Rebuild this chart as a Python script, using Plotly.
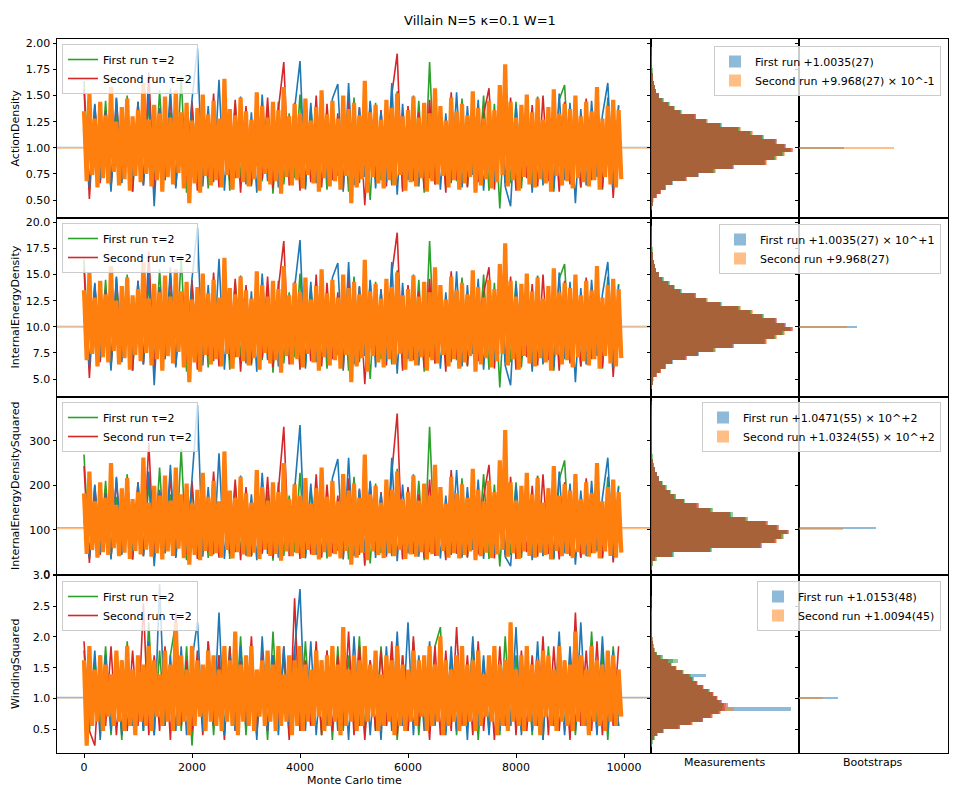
import plotly.graph_objects as go

FONT = "DejaVu Sans"
BLUE, ORANGE, GREEN, RED = "#1f77b4", "#ff7f0e", "#2ca02c", "#d62728"

TITLE = "Villain N=5 κ=0.1 W=1"
OBSERVABLES = ["ActionDensity", "InternalEnergyDensity", "InternalEnergyDensitySquared", "WindingSquared"]
X_TICKS = [0, 2000, 4000, 6000, 8000, 10000]
Y_TICKS = [
    [0.50, 0.75, 1.00, 1.25, 1.50, 1.75, 2.00],
    [5.0, 7.5, 10.0, 12.5, 15.0, 17.5, 20.0],
    [0, 100, 200, 300],
    [0.5, 1.0, 1.5, 2.0, 2.5, 3.0],
]
TRACE_LABELS = ["First run τ=2", "Second run τ=2"]
RESULT_LABELS = [
    ("First run +1.0035(27)", "Second run +9.968(27) × 10^-1"),
    ("First run +1.0035(27) × 10^+1", "Second run +9.968(27)"),
    ("First run +1.0471(55) × 10^+2", "Second run +1.0324(55) × 10^+2"),
    ("First run +1.0153(48)", "Second run +1.0094(45)"),
]
MEAN_FIRST = [1.0035, 10.035, 104.71, 1.0153]
MEAN_SECOND = [0.9968, 9.968, 103.24, 1.0094]
BOOT_COUNT_FIRST = [315, 406, 539, 273]
BOOT_COUNT_SECOND = [665, 336, 308, 168]

# Monte Carlo time (sub-sampled)
T_FINE = list(range(0, 10000, 50))
T_COARSE = list(range(0, 10000, 100))

# ---------------- ActionDensity ----------------
AD_ORANGE = [1.35,0.68,1.52,0.74,1.28,0.62,1.44,0.71,1.31,0.66,1.58,0.77,1.25,0.64,1.39,0.70,1.47,0.59,1.30,0.73,
 1.36,0.67,1.62,0.75,1.27,0.63,1.41,0.69,1.33,0.58,1.49,0.72,1.29,0.65,1.55,0.76,1.34,0.61,1.43,0.47,
 1.26,0.66,1.38,0.57,1.51,0.73,1.32,0.64,1.45,0.69,1.28,0.62,1.66,0.74,1.37,0.60,1.31,0.71,1.48,0.67,
 1.35,0.63,1.27,0.70,1.53,0.59,1.40,0.75,1.29,0.65,1.44,0.68,1.36,0.56,1.58,0.72,1.30,0.64,1.42,0.69,
 1.33,0.61,1.47,0.74,1.26,0.66,1.39,0.58,1.55,0.71,1.32,0.63,1.45,0.68,1.28,0.60,1.50,0.73,1.37,0.47,
 1.43,0.62,1.31,0.70,1.64,0.57,1.34,0.72,1.41,0.66,1.27,0.61,1.46,0.69,1.38,0.64,1.52,0.74,1.30,0.59,
 1.36,0.67,1.49,0.63,1.29,0.71,1.43,0.58,1.33,0.68,1.57,0.65,1.40,0.73,1.26,0.62,1.48,0.69,1.35,0.60,
 1.42,0.66,1.31,0.72,1.54,0.57,1.38,0.64,1.28,0.70,1.45,0.61,1.36,0.67,1.60,0.74,1.80,0.63,1.44,0.69,
 1.29,0.59,1.41,0.72,1.51,0.65,1.34,0.62,1.47,0.70,1.27,0.66,1.39,0.58,1.56,0.73,1.33,0.64,1.42,0.68,
 1.37,0.61,1.50,0.71,1.30,0.67,1.44,0.63,1.35,0.69,1.58,0.60,1.28,0.72,1.40,0.65,1.46,0.62,1.36,0.70]
AD_BLUE = [1.10,0.62,1.42,0.70,1.35,0.58,1.48,0.66,1.30,0.72, 1.44,0.64,1.52,0.44,1.38,0.69,1.57,0.61,1.33,0.74,
 1.46,1.95,0.63,1.40,0.67,1.65,0.59,1.36,0.71,1.49, 0.65,1.34,0.57,1.51,0.68,1.41,0.62,1.55,0.73,1.37,
 1.83,0.60,1.43,0.66,1.32,0.70,1.47,1.61,0.58,1.62, 0.64,1.39,0.72,1.45,0.61,1.35,0.67,1.62,0.55,1.42,
 0.69,1.50,0.63,1.37,0.71,1.44,0.60,1.33,0.66,1.53, 0.62,1.40,0.74,1.46,0.59,1.36,0.68,1.58,0.63,0.44,
 1.41,0.70,1.34,0.57,1.48,0.65,1.39,0.61,1.52,0.69, 1.43,0.47,1.37,0.64,1.45,0.72,1.31,1.62,0.60,1.40]
AD_GREEN = [1.64,0.60,1.38,0.68,1.45,0.63,1.32,0.71,1.50,0.58, 1.36,0.66,1.43,0.62,1.55,0.69,1.34,0.64,1.68,0.57,
 1.40,0.72,1.47,0.61,1.35,0.67,1.52,0.59,1.42,0.70, 1.31,0.63,1.49,0.68,1.37,0.56,1.44,0.65,1.33,0.71,
 1.51,0.62,1.39,0.67,1.46,0.60,1.36,0.73,1.41,0.58, 1.48,0.66,1.34,0.50,1.43,0.69,1.38,0.64,1.54,0.61,
 1.35,0.70,1.45,0.57,1.82,0.65,1.40,0.62,1.32,0.68, 1.47,0.63,1.37,0.71,1.50,0.59,1.42,0.42,1.36,0.66,
 1.44,0.61,1.33,0.69,1.49,0.64,1.39,0.58,1.46,1.60, 0.67,1.35,0.62,1.43,0.70,1.38,0.60,1.48,0.65,1.41]
AD_RED = [1.56,0.51,1.41,0.66,1.35,0.61,1.47,0.69,1.38,0.58, 1.44,0.64,1.72,0.60,1.36,0.70,1.49,0.63,1.33,0.67,
 1.45,0.59,1.39,0.72,1.52,0.62,1.34,0.68,1.46,0.57, 1.40,0.65,1.31,0.70,1.48,0.61,1.37,1.82,0.64,1.43,
 0.59,1.35,0.67,1.50,0.62,1.42,0.69,1.33,0.60,1.47, 0.66,1.38,0.45,1.44,0.71,1.36,0.63,1.51,1.90,0.58,
 1.40,0.68,1.34,0.61,1.46,0.65,1.39,0.57,1.53,0.70, 1.37,0.62,1.45,0.67,1.32,1.57,0.60,1.43,0.66,1.48,
 0.59,1.36,0.71,1.41,0.63,1.50,0.68,1.35,0.58,1.44, 0.65,1.39,0.62,1.47,0.69,1.55,0.61,1.40,0.52,1.30]

# ---------------- InternalEnergyDensity ----------------
IED_ORANGE = [13.5,6.8,15.2,7.4,12.8,6.2,14.4,7.1,13.1,6.6,15.8,7.7,12.5,6.4,13.9,7.0,14.7,5.9,13.0,7.3,
 13.6,6.7,16.2,7.5,12.7,6.3,14.1,6.9,13.3,5.8,14.9,7.2,12.9,6.5,15.5,7.6,13.4,6.1,14.3,4.7,
 12.6,6.6,13.8,5.7,15.1,7.3,13.2,6.4,14.5,6.9,12.8,6.2,16.6,7.4,13.7,6.0,13.1,7.1,14.8,6.7,
 13.5,6.3,12.7,7.0,15.3,5.9,14.0,7.5,12.9,6.5,14.4,6.8,13.6,5.6,15.8,7.2,13.0,6.4,14.2,6.9,
 13.3,6.1,14.7,7.4,12.6,6.6,13.9,5.8,15.5,7.1,13.2,6.3,14.5,6.8,12.8,6.0,15.0,7.3,13.7,4.7,
 14.3,6.2,13.1,7.0,16.4,5.7,13.4,7.2,14.1,6.6,12.7,6.1,14.6,6.9,13.8,6.4,15.2,7.4,13.0,5.9,
 13.6,6.7,14.9,6.3,12.9,7.1,14.3,5.8,13.3,6.8,15.7,6.5,14.0,7.3,12.6,6.2,14.8,6.9,13.5,6.0,
 14.2,6.6,13.1,7.2,15.4,5.7,13.8,6.4,12.8,7.0,14.5,6.1,13.6,6.7,16.0,7.4,18.0,6.3,14.4,6.9,
 12.9,5.9,14.1,7.2,15.1,6.5,13.4,6.2,14.7,7.0,12.7,6.6,13.9,5.8,15.6,7.3,13.3,6.4,14.2,6.8,
 13.7,6.1,15.0,7.1,13.0,6.7,14.4,6.3,13.5,6.9,15.8,6.0,12.8,7.2,14.0,6.5,14.6,6.2,13.6,7.0]
IED_BLUE = [11.0,6.2,14.2,7.0,13.5,5.8,14.8,6.6,13.0,7.2, 14.4,6.4,15.2,4.4,13.8,6.9,15.7,6.1,13.3,7.4,
 14.6,19.5,6.3,14.0,6.7,16.5,5.9,13.6,7.1,14.9, 6.5,13.4,5.7,15.1,6.8,14.1,6.2,15.5,7.3,13.7,
 18.3,6.0,14.3,6.6,13.2,7.0,14.7,16.1,5.8,16.2, 6.4,13.9,7.2,14.5,6.1,13.5,6.7,16.2,5.5,14.2,
 6.9,15.0,6.3,13.7,7.1,14.4,6.0,13.3,6.6,15.3, 6.2,14.0,7.4,14.6,5.9,13.6,6.8,15.8,6.3,4.4,
 14.1,7.0,13.4,5.7,14.8,6.5,13.9,6.1,15.2,6.9, 14.3,4.7,13.7,6.4,14.5,7.2,13.1,16.2,6.0,14.0]
IED_GREEN = [16.4,6.0,13.8,6.8,14.5,6.3,13.2,7.1,15.0,5.8, 13.6,6.6,14.3,6.2,15.5,6.9,13.4,6.4,16.8,5.7,
 14.0,7.2,14.7,6.1,13.5,6.7,15.2,5.9,14.2,7.0, 13.1,6.3,14.9,6.8,13.7,5.6,14.4,6.5,13.3,7.1,
 15.1,6.2,13.9,6.7,14.6,6.0,13.6,7.3,14.1,5.8, 14.8,6.6,13.4,5.0,14.3,6.9,13.8,6.4,15.4,6.1,
 13.5,7.0,14.5,5.7,18.2,6.5,14.0,6.2,13.2,6.8, 14.7,6.3,13.7,7.1,15.0,5.9,14.2,4.2,13.6,6.6,
 14.4,6.1,13.3,6.9,14.9,6.4,13.9,5.8,14.6,16.0, 6.7,13.5,6.2,14.3,7.0,13.8,6.0,14.8,6.5,14.1]
IED_RED = [15.6,5.1,14.1,6.6,13.5,6.1,14.7,6.9,13.8,5.8, 14.4,6.4,17.2,6.0,13.6,7.0,14.9,6.3,13.3,6.7,
 14.5,5.9,13.9,7.2,15.2,6.2,13.4,6.8,14.6,5.7, 14.0,6.5,13.1,7.0,14.8,6.1,13.7,18.2,6.4,14.3,
 5.9,13.5,6.7,15.0,6.2,14.2,6.9,13.3,6.0,14.7, 6.6,13.8,4.5,14.4,7.1,13.6,6.3,15.1,19.0,5.8,
 14.0,6.8,13.4,6.1,14.6,6.5,13.9,5.7,15.3,7.0, 13.7,6.2,14.5,6.7,13.2,15.7,6.0,14.3,6.6,14.8,
 5.9,13.6,7.1,14.1,6.3,15.0,6.8,13.5,5.8,14.4, 6.5,13.9,6.2,14.7,6.9,15.5,6.1,14.0,5.2,13.0]

# ---------------- InternalEnergyDensitySquared ----------------
IEDS_ORANGE = [182,46,231,55,164,38,207,50,172,44,250,59,156,41,193,49,216,35,169,53,
 185,45,262,56,161,40,199,48,177,34,222,52,166,42,240,58,180,37,204,22,
 159,44,190,32,228,53,174,41,210,48,164,38,276,55,188,36,172,50,219,45,
 182,40,161,49,234,35,196,56,166,42,207,46,185,31,250,52,169,41,202,48,
 177,37,216,55,159,44,193,34,240,50,174,40,210,46,164,36,225,53,188,22,
 204,38,172,49,269,32,180,52,199,44,161,37,213,48,190,41,231,55,169,35,
 185,45,222,40,166,50,204,34,177,46,246,42,196,53,159,38,219,48,182,36,
 202,44,172,52,237,32,190,41,164,49,210,37,185,45,256,55,324,40,207,48,
 166,35,199,52,228,42,180,38,216,49,161,44,193,34,243,53,177,41,202,46,
 188,37,225,50,169,45,207,40,182,48,250,36,164,52,196,42,213,38,185,49]
IEDS_BLUE = [121,38,202,49,182,34,219,44,169,52, 207,41,231,19,190,48,246,37,177,55,
 213,380,40,196,45,272,35,185,50,222, 42,180,32,228,46,199,38,240,53,188,
 335,36,204,44,174,49,216,259,34,262, 41,193,52,210,37,182,45,262,30,202,
 48,225,40,188,50,207,36,177,44,234, 38,196,55,213,35,185,46,250,40,19,
 199,49,180,32,219,42,193,37,231,48, 204,22,188,41,210,52,172,262,36,196]
IEDS_GREEN = [269,36,190,46,210,40,174,50,225,34, 185,44,204,38,240,48,180,41,282,32,
 196,52,216,37,182,45,231,35,202,49, 172,40,222,46,188,31,207,42,177,50,
 228,38,193,45,213,36,185,53,199,34, 219,44,180,25,204,48,190,41,237,37,
 182,49,210,32,331,42,196,38,174,46, 216,40,188,50,225,35,202,18,185,44,
 207,37,177,48,222,41,193,34,213,256, 45,182,38,204,49,190,36,219,42,199]
IEDS_RED = [243,26,199,44,182,37,216,48,190,34, 207,41,296,36,185,49,222,40,177,45,
 210,35,193,52,231,38,180,46,213,32, 196,42,172,49,219,37,188,331,41,204,
 35,182,45,225,38,202,48,177,36,216, 44,190,20,207,50,185,40,228,361,34,
 196,46,180,37,213,42,193,32,234,49, 188,38,210,45,174,246,36,204,44,219,
 35,185,50,199,40,225,46,182,34,207, 42,193,38,216,48,240,37,196,27,169]

# ---------------- WindingSquared ----------------
WS_ORANGE = [1.62,0.23,1.85,0.55,1.47,0.62,1.70,0.47,1.55,0.70,1.39,0.55,1.78,0.62,1.62,0.47,1.85,0.55,1.47,0.40,
 1.70,0.62,1.55,0.55,1.85,0.47,1.62,0.70,1.39,0.55,1.78,0.62,1.55,0.47,2.24,0.55,1.70,0.62,1.47,0.40,
 1.85,0.55,1.62,0.70,1.55,0.47,1.78,0.62,1.70,0.55,1.47,0.47,1.85,0.62,1.62,0.55,2.09,0.40,1.55,0.62,
 1.70,0.55,1.85,0.47,1.47,0.70,1.62,0.55,1.78,0.62,1.55,0.47,1.85,0.55,1.39,0.62,1.70,0.40,1.62,0.55,
 1.85,0.47,1.55,0.62,1.47,0.55,1.78,0.70,1.62,0.47,1.70,0.55,1.85,0.62,1.55,0.40,2.16,0.55,1.47,0.62,
 1.70,0.47,1.62,0.55,1.85,0.62,1.55,0.70,1.78,0.47,1.39,0.55,1.70,0.62,1.62,0.40,1.85,0.55,1.55,0.47,
 1.47,0.62,1.78,0.55,1.62,0.70,1.70,0.47,1.85,0.55,1.55,0.62,2.01,0.40,1.62,0.55,1.47,0.62,1.70,0.47,
 1.85,0.55,1.55,0.62,1.62,0.47,1.78,0.55,1.39,0.70,1.70,0.62,1.85,0.40,1.55,0.55,1.62,0.47,2.24,0.62,
 1.47,0.55,1.70,0.47,1.85,0.62,1.55,0.55,1.62,0.40,1.78,0.70,1.70,0.55,1.47,0.47,1.85,0.62,1.62,0.55,
 1.55,0.47,2.09,0.62,1.70,0.55,1.47,0.40,1.85,0.62,1.62,0.55,1.55,0.47,1.78,0.62,1.70,0.55,1.47,0.70]
WS_BLUE = [1.31,0.55,1.78,0.32,1.70,0.47,1.62,0.40,1.85,0.55, 1.55,0.47,1.93,0.40,2.86,0.55,1.70,0.47,1.85,0.40,
 1.62,2.24,0.47,1.78,0.55,2.40,0.40,1.70,0.47,1.85, 0.55,1.62,0.32,2.01,0.47,1.70,0.40,1.85,0.55,1.78,
 2.78,0.47,1.93,0.40,1.62,0.55,1.85,0.47,1.70,0.32, 2.01,0.55,1.78,0.40,1.62,0.32,1.85,0.47,2.09,0.55,
 2.24,0.40,1.70,0.47,1.93,0.55,1.62,0.40,1.85,0.47, 1.78,0.32,2.01,0.55,1.70,0.40,1.85,0.47,1.62,0.55,
 2.16,0.40,1.78,0.47,1.93,0.32,1.70,0.55,2.09,0.40, 1.85,0.47,2.24,0.55,1.62,0.40,2.01,0.47,1.78,0.55]
WS_GREEN = [1.78,0.47,1.62,0.55,1.85,0.40,1.70,0.32,1.93,0.55, 1.62,0.47,2.24,0.40,1.78,0.55,1.70,2.24,0.47,1.85,
 0.23,1.62,0.55,1.93,0.40,1.70,0.47,1.85,0.55,2.01, 0.40,1.78,0.47,1.62,0.32,2.09,0.55,1.70,0.40,1.85,
 0.47,1.93,0.55,1.62,0.40,1.78,0.32,1.85,0.47,1.70, 0.55,2.01,0.40,1.62,0.47,1.85,0.55,1.78,0.32,1.70,
 0.47,1.93,0.40,1.62,0.55,1.85,2.16,0.47,1.70,0.40, 1.78,0.55,1.93,0.32,1.62,0.47,1.85,0.40,2.01,0.55,
 1.70,0.47,1.78,0.40,1.62,0.32,1.85,0.55,1.93,0.47, 1.70,0.40,1.62,0.55,2.09,0.47,1.78,0.32,1.85,0.55]
WS_RED = [1.93,0.47,0.23,1.70,0.55,1.85,0.40,1.62,0.47,1.78, 0.55,2.55,0.40,1.70,0.47,1.85,0.32,2.40,0.55,1.62,
 0.47,1.78,0.40,1.93,0.55,1.70,0.32,1.85,0.47,1.62, 0.55,2.01,0.40,1.78,0.47,1.70,0.55,1.85,0.32,2.63,
 0.47,1.62,0.55,1.93,0.40,1.78,0.47,1.70,0.55,2.09, 0.40,1.85,0.32,1.62,0.47,1.78,0.55,1.93,0.40,1.70,
 0.47,2.01,0.55,1.62,0.32,1.85,0.40,1.78,0.47,2.16, 0.55,1.70,0.40,1.93,0.47,1.62,0.32,1.85,0.55,2.09,
 0.40,1.78,0.47,1.70,0.55,2.01,0.40,1.85,0.47,1.62, 0.32,2.40,0.55,1.78,0.47,1.93,0.40,1.70,0.55,1.85]

# ---------------- Measurement histograms (bin counts) ----------------
AD_BIN_START, AD_BIN_STEP, AD_NBINS = 0.42, 0.04, 39
IED_BIN_START, IED_BIN_STEP, IED_NBINS = 4.2, 0.4, 39
IEDS_BIN_START, IEDS_BIN_STEP, IEDS_NBINS = 15, 10, 39
WS_BIN_START, WS_BIN_STEP, WS_NBINS = 0.23, 0.06, 45

# ActionDensity and InternalEnergyDensity histograms are identical (same measurements)
AD_HIST_BLUE = [0,7,14,35,63,105,154,245,336,441,574,798,868,924,980,938,875,784,700,616,490,392,308,210,161,126,84,56,35,28,21,14,10,7,4,2,1,1,1]
AD_HIST_ORANGE = [1,9,18,42,70,98,147,238,322,455,560,812,882,938,987,924,861,770,714,630,476,399,315,203,154,119,77,49,32,25,18,12,8,6,3,2,1,0,0]
AD_HIST_GREEN = [1,8,16,38,66,102,150,240,330,448,567,790,875,930,972,931,868,791,707,623,497,385,301,217,168,133,88,59,38,30,22,15,11,8,5,3,2,1,1]
AD_HIST_RED = [0,8,15,40,68,100,145,250,328,434,581,805,861,917,994,945,882,777,693,609,483,388,312,206,158,122,80,53,34,27,19,13,9,6,4,2,1,1,0]

IEDS_HIST_BLUE = [0,7,28,154,420,770,868,917,959,875,805,665,560,420,322,231,168,133,105,77,56,42,28,18,12,7,6,4,3,3,2,2,1,1,1,1,1,1,0]
IEDS_HIST_ORANGE = [1,9,35,140,406,756,882,931,945,889,812,672,546,427,329,224,175,126,98,70,52,38,25,16,10,7,5,4,3,2,2,1,1,1,1,0,0,0,0]
IEDS_HIST_GREEN = [1,8,42,161,427,763,861,924,952,882,798,679,574,434,315,238,175,140,112,84,59,45,30,20,13,8,6,5,3,3,2,2,1,1,1,1,1,0,0]
IEDS_HIST_RED = [0,7,31,147,413,777,875,910,966,896,819,658,553,413,336,228,161,130,101,74,54,40,27,17,11,7,5,4,3,2,2,1,1,1,1,1,0,0,0]

WS_HIST_BLUE = [4,7,21,42,84,196,280,364,420,476,980,504,490,462,434,406,364,322,294,385,224,175,140,154,70,42,28,21,14,10,7,6,4,3,2,1,1,1,1,1,1,0,0,0,0]
WS_HIST_ORANGE = [2,6,18,35,77,203,294,350,434,490,581,525,483,469,441,399,371,329,287,273,231,182,147,126,77,42,28,21,14,10,7,4,3,2,1,1,1,0,0,0,0,0,0,0,0]
WS_HIST_GREEN = [3,10,28,49,91,189,273,357,413,469,497,511,476,455,427,413,357,315,301,280,224,168,140,189,84,42,21,14,10,7,6,4,3,2,1,1,1,1,0,0,0,0,0,0,0]
WS_HIST_RED = [2,7,21,42,84,203,287,364,427,483,518,539,497,462,434,399,364,322,287,266,217,175,140,119,63,35,21,14,10,7,4,3,2,1,1,1,0,0,0,0,0,0,0,0,0]


def bin_centers(start, step, n):
    return [round(start + step * i, 6) for i in range(n)]


SERIES = [
    (AD_BLUE, AD_ORANGE, AD_GREEN, AD_RED),
    (IED_BLUE, IED_ORANGE, IED_GREEN, IED_RED),
    (IEDS_BLUE, IEDS_ORANGE, IEDS_GREEN, IEDS_RED),
    (WS_BLUE, WS_ORANGE, WS_GREEN, WS_RED),
]
HISTS = [
    (bin_centers(AD_BIN_START, AD_BIN_STEP, AD_NBINS), AD_BIN_STEP, (AD_HIST_BLUE, AD_HIST_ORANGE, AD_HIST_GREEN, AD_HIST_RED)),
    (bin_centers(IED_BIN_START, IED_BIN_STEP, IED_NBINS), IED_BIN_STEP, (AD_HIST_BLUE, AD_HIST_ORANGE, AD_HIST_GREEN, AD_HIST_RED)),
    (bin_centers(IEDS_BIN_START, IEDS_BIN_STEP, IEDS_NBINS), IEDS_BIN_STEP, (IEDS_HIST_BLUE, IEDS_HIST_ORANGE, IEDS_HIST_GREEN, IEDS_HIST_RED)),
    (bin_centers(WS_BIN_START, WS_BIN_STEP, WS_NBINS), WS_BIN_STEP, (WS_HIST_BLUE, WS_HIST_ORANGE, WS_HIST_GREEN, WS_HIST_RED)),
]

# ---------------- layout / style ----------------
W, H = 960, 800
COLS = [(57, 651), (651, 799), (799, 948)]
ROWS = [(39, 218), (218, 397), (397, 575), (575, 753)]
Y_RANGES = [[0.328, 2.041], [3.28, 20.41], [-1, 398], [0.109, 3.01]]
Y_FORMATS = [".2f", ".1f", "d", ".1f"]
BOOT_THICK = [0.012, 0.12, 2.5, 0.025]
HIST_XMAX = 1036
BOOT_XMAX = 1043
LEG1_TOP = [44, 223, 402, 581]
LEG2_TOP = [46, 224, 402, 581]
LINE_W = {"blue": 1.6, "green": 1.6, "red": 1.6, "orange": 4.2}
LIGHT = {BLUE: "rgb(143,187,217)", ORANGE: "rgb(255,191,134)"}


def fx(p):
    return p / W


def fy(p):
    return 1 - p / H


def ids(r, c):
    k = r * 3 + c + 1
    s = "" if k == 1 else str(k)
    return "x" + s, "y" + s, "xaxis" + s, "yaxis" + s


def leg_name(n):
    return "legend" if n == 1 else f"legend{n}"


fig = go.Figure()
layout = dict(
    width=W, height=H, margin=dict(l=0, r=0, t=0, b=0),
    paper_bgcolor="white", plot_bgcolor="white",
    font=dict(family=FONT, size=11, color="black"),
    barmode="overlay", bargap=0, showlegend=True,
    title=dict(text=TITLE, x=0.5, xanchor="center", y=fy(20), yanchor="middle",
               xref="paper", yref="paper", font=dict(size=13, family=FONT, color="black")),
)
shapes = []
annotations = []

axis_common = dict(showline=True, linecolor="black", linewidth=1, mirror=True,
                   showgrid=False, zeroline=False, automargin=False)

for r in range(4):
    y0p, y1p = ROWS[r]
    leg_a = leg_name(2 * r + 1)
    leg_b = leg_name(2 * r + 2)
    blue, orange, green, red = SERIES[r]
    for c in range(3):
        xs, ys, xk, yk = ids(r, c)
        xa = dict(axis_common, domain=[fx(COLS[c][0]), fx(COLS[c][1])], anchor=ys)
        ya = dict(axis_common, domain=[fy(y1p), fy(y0p)], anchor=xs,
                  range=Y_RANGES[r], tickvals=Y_TICKS[r], ticks="outside",
                  ticklen=3.5, tickwidth=1, tickcolor="black",
                  showticklabels=(c == 0), tickfont=dict(size=11, family=FONT),
                  tickformat=Y_FORMATS[r])
        if c == 0:
            xa.update(range=[-500, 10500], tickvals=X_TICKS, tickformat="d",
                      ticks="outside" if r == 3 else "", ticklen=3.5, tickcolor="black",
                      showticklabels=(r == 3), tickfont=dict(size=11, family=FONT))
        elif c == 1:
            xa.update(range=[0, HIST_XMAX], showticklabels=False, ticks="")
        else:
            xa.update(range=[0, BOOT_XMAX], showticklabels=False, ticks="")
        layout[xk] = xa
        layout[yk] = ya

    # --- time series column ---
    xs, ys, _, _ = ids(r, 0)
    # mean lines (behind the data); the upper one is drawn opaque-light
    order = [(MEAN_FIRST[r], BLUE), (MEAN_SECOND[r], ORANGE)]
    if r == 3:
        order = order[::-1]
    for m, col in order:
        shapes.append(dict(type="line", xref=f"{xs} domain", yref=ys, x0=0, x1=1, y0=m, y1=m,
                           line=dict(color=LIGHT[col], width=1.5), layer="below"))
    for vals, col, key, lab, leg in [(green, GREEN, "green", TRACE_LABELS[0], True),
                                     (red, RED, "red", TRACE_LABELS[1], True),
                                     (blue, BLUE, "blue", None, False),
                                     (orange, ORANGE, "orange", None, False)]:
        tt = T_FINE if len(vals) > len(T_COARSE) else T_COARSE
        fig.add_trace(go.Scatter(x=tt[:len(vals)], y=vals, mode="lines",
                                 line=dict(color=col, width=LINE_W[key], simplify=False),
                                 name=lab if lab else "", showlegend=leg,
                                 legend=leg_a, xaxis=xs, yaxis=ys, hoverinfo="skip"))

    # --- measurement histograms ---
    xs, ys, _, _ = ids(r, 1)
    centers, bw, counts = HISTS[r]
    for cnt, col, lab, leg in [(counts[0], BLUE, RESULT_LABELS[r][0], True),
                               (counts[1], ORANGE, RESULT_LABELS[r][1], True),
                               (counts[2], GREEN, None, False),
                               (counts[3], RED, None, False)]:
        fig.add_trace(go.Bar(x=cnt, y=centers, orientation="h", width=bw,
                             marker=dict(color=col, line=dict(width=0)), opacity=0.5,
                             name=lab if lab else "", showlegend=leg, legend=leg_b,
                             xaxis=xs, yaxis=ys, hoverinfo="skip"))

    # --- bootstrap histograms ---
    xs, ys, _, _ = ids(r, 2)
    for m, cnt, col in [(MEAN_FIRST[r], BOOT_COUNT_FIRST[r], BLUE),
                        (MEAN_SECOND[r], BOOT_COUNT_SECOND[r], ORANGE)]:
        fig.add_trace(go.Bar(x=[cnt], y=[m], orientation="h", width=BOOT_THICK[r],
                             marker=dict(color=col, line=dict(width=0)), opacity=0.5,
                             showlegend=False, xaxis=xs, yaxis=ys, hoverinfo="skip"))

    leg_style = dict(bgcolor="rgba(255,255,255,0.8)", bordercolor="#cccccc", borderwidth=1,
                     font=dict(size=11, family=FONT, color="black"), yanchor="top",
                     xref="paper", yref="paper", itemwidth=30, tracegroupgap=0)
    layout[leg_a] = dict(leg_style, x=fx(62), y=fy(LEG1_TOP[r]), xanchor="left")
    layout[leg_b] = dict(leg_style, x=fx(941), y=fy(LEG2_TOP[r]), xanchor="right")

    annotations.append(dict(text=OBSERVABLES[r], x=fx(15), y=fy((y0p + y1p) / 2),
                            xref="paper", yref="paper", showarrow=False, textangle=-90,
                            xanchor="center", yanchor="middle", font=dict(size=11, family=FONT)))

annotations.append(dict(text="Monte Carlo time", x=fx(354), y=fy(780), xref="paper", yref="paper",
                        showarrow=False, xanchor="center", yanchor="middle", font=dict(size=11, family=FONT)))
annotations.append(dict(text="Measurements", x=fx(725), y=fy(762), xref="paper", yref="paper",
                        showarrow=False, xanchor="center", yanchor="middle", font=dict(size=11, family=FONT)))
annotations.append(dict(text="Bootstraps", x=fx(873), y=fy(762), xref="paper", yref="paper",
                        showarrow=False, xanchor="center", yanchor="middle", font=dict(size=11, family=FONT)))

layout["shapes"] = shapes
layout["annotations"] = annotations
fig.update_layout(**layout)
fig.write_html("out.html")
